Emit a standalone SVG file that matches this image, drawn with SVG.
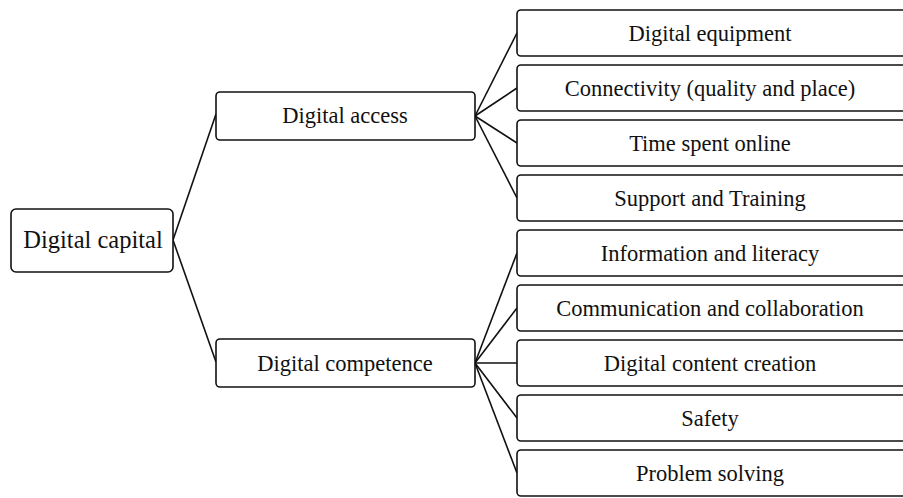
<svg xmlns="http://www.w3.org/2000/svg" width="903" height="498" viewBox="0 0 903 498">
<style>
rect{fill:#fff;stroke:#111;stroke-width:1.6}
text{font-family:"Liberation Serif","Times New Roman",serif;fill:#111;text-anchor:middle}
.t{font-size:22.5px}
.big{font-size:24.5px}
.c line{stroke:#111;stroke-width:1.6}
</style>
<rect x="0" y="0" width="903" height="498" style="fill:#fff;stroke:none"/>
<g class="c" id="connectors">
<line x1="173" y1="240" x2="216" y2="114"/>
<line x1="173" y1="240" x2="216" y2="362"/>
<line x1="475" y1="116" x2="517" y2="33"/>
<line x1="475" y1="116" x2="517" y2="88"/>
<line x1="475" y1="116" x2="517" y2="143"/>
<line x1="475" y1="116" x2="517" y2="198"/>
<line x1="475" y1="363" x2="517" y2="253"/>
<line x1="475" y1="363" x2="517" y2="308"/>
<line x1="475" y1="363" x2="517" y2="363"/>
<line x1="475" y1="363" x2="517" y2="418"/>
<line x1="475" y1="363" x2="517" y2="473"/>
</g>
<g id="n-capital"><rect x="11" y="209" width="162" height="63" rx="5"/><text class="big" x="93" y="248">Digital capital</text></g>
<g id="n-access"><rect x="216" y="92" width="259" height="48" rx="4"/><text class="t" x="345" y="123">Digital access</text></g>
<g id="n-competence"><rect x="216" y="339" width="259" height="48" rx="4"/><text class="t" x="345" y="371">Digital competence</text></g>
<g id="n-equipment"><rect x="517" y="10" width="390" height="46" rx="4"/><text class="t" x="710" y="41">Digital equipment</text></g>
<g id="n-connectivity"><rect x="517" y="65" width="390" height="46" rx="4"/><text class="t" x="710" y="96">Connectivity (quality and place)</text></g>
<g id="n-time"><rect x="517" y="120" width="390" height="46" rx="4"/><text class="t" x="710" y="151">Time spent online</text></g>
<g id="n-support"><rect x="517" y="175" width="390" height="46" rx="4"/><text class="t" x="710" y="206">Support and Training</text></g>
<g id="n-information"><rect x="517" y="230" width="390" height="46" rx="4"/><text class="t" x="710" y="261">Information and literacy</text></g>
<g id="n-communication"><rect x="517" y="285" width="390" height="46" rx="4"/><text class="t" x="710" y="316">Communication and collaboration</text></g>
<g id="n-content"><rect x="517" y="340" width="390" height="46" rx="4"/><text class="t" x="710" y="371">Digital content creation</text></g>
<g id="n-safety"><rect x="517" y="395" width="390" height="46" rx="4"/><text class="t" x="710" y="426">Safety</text></g>
<g id="n-problem"><rect x="517" y="450" width="390" height="46" rx="4"/><text class="t" x="710" y="481">Problem solving</text></g>
</svg>
